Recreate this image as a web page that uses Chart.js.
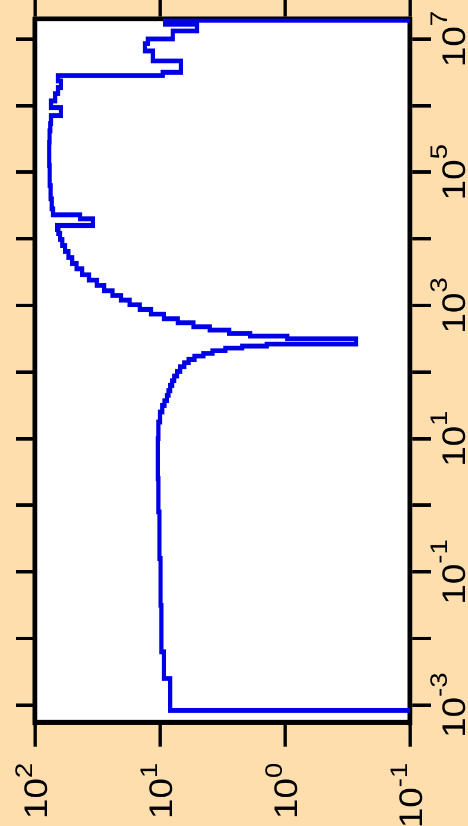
<!DOCTYPE html>
<html>
<head>
<meta charset="utf-8">
<script src="https://cdn.jsdelivr.net/npm/chart.js@4.4.1/dist/chart.umd.min.js"></script>
<style>
  html, body { margin: 0; padding: 0; }
  body { width: 468px; height: 826px; overflow: hidden; background: #FFDEAD; position: relative; }
  #wrap {
    position: absolute; left: 0; top: 0; width: 718px; height: 468px;
    transform-origin: 0 0;
    transform: translate(0px, 826px) rotate(-90deg) scale(1.1504, 1);
  }
</style>
</head>
<body>
<div id="wrap"><canvas id="grafico" width="718" height="468"></canvas></div>
<script>
// histogram bins: log10 of bin start, and bin height
const binStartExp = [-3.08, -2.6, -2.2, -1.5, -0.8, -0.1, 0.4, 1.0, 1.25, 1.4, 1.5, 1.57, 1.65, 1.72, 1.8, 1.87,
  1.94, 2.01, 2.08, 2.14, 2.19, 2.24, 2.28, 2.32, 2.36, 2.39, 2.42, 2.5, 2.54, 2.58, 2.63, 2.68, 2.74, 2.8,
  2.87, 2.94, 3.01, 3.08, 3.15, 3.22, 3.3, 3.38, 3.46, 3.55, 3.63, 3.72, 3.81, 3.9, 3.99, 4.08, 4.14, 4.2,
  4.3, 4.36, 4.45, 4.6, 4.8, 5.1, 5.45, 5.62, 5.73, 5.85, 5.97, 6.07, 6.18, 6.27, 6.37, 6.45, 6.5, 6.67,
  6.82, 6.93, 7.0, 7.12, 7.22];
const binValue = [8.3, 9.3, 9.75, 9.9, 10.1, 10.3, 10.4, 10.3, 10.0, 9.6, 9.2, 8.8, 8.55, 8.3, 8.0, 7.7,
  7.3, 6.9, 6.4, 5.9, 5.3, 4.5, 3.8, 3.0, 2.2, 1.4, 0.27, 0.96, 1.9, 2.8, 4.0, 5.4, 7.2, 9.3,
  11.8, 14.5, 17.5, 20.5, 24, 28, 32, 37, 42, 46.5, 50.5, 54, 57.5, 60.5, 63, 65, 66.5, 34.4,
  43.6, 71.8, 73.5, 75, 76.3, 77, 76.5, 75.5, 74.5, 62, 74.5, 69, 65.5, 62, 65.5, 9.5, 6.8, 11.4,
  13.2, 12.5, 7.9, 5.06, 9.1];
const lastEdgeExp = 7.28;
const emptyValue = 0.01;

const xRangeExp = [-3.26, 7.305];
const yRangeExp = [-1, 2];
const xTickExps = [-3, -2, -1, 0, 1, 2, 3, 4, 5, 6, 7];
const xLabelExps = [-3, -1, 1, 3, 5, 7];
const yTickExps = [-1, 0, 1, 2];
const yLabelExps = [-1, 0, 1, 2];

const FONT = '"Liberation Sans", Arial, sans-serif';

function tickList(exps) {
  return exps.map(e => ({ value: Math.pow(10, e) }));
}

function fixSize(prop, val) {
  return s => { s[prop] = val; };
}

const fundoBranco = {
  id: "fundoBranco",
  beforeDraw(chart) {
    const a = chart.chartArea;
    chart.ctx.save();
    chart.ctx.fillStyle = "#ffffff";
    chart.ctx.fillRect(a.left, a.top, a.right - a.left, a.bottom - a.top);
    chart.ctx.restore();
  }
};

function drawPow(ctx, x, baseY, supY, e, align) {
  ctx.font = "32px " + FONT;
  const w1 = ctx.measureText("10").width;
  ctx.font = "24px " + FONT;
  const sup = String(e);
  const w2 = ctx.measureText(sup).width;
  const left = align === "right" ? x - (w1 + w2) : x - (w1 + w2) / 2;
  ctx.font = "32px " + FONT;
  ctx.fillText("10", left, baseY);
  ctx.font = "24px " + FONT;
  ctx.fillText(sup, left + w1, supY);
}

const rotulosPot = {
  id: "rotulosPot",
  afterDraw(chart) {
    const ctx = chart.ctx;
    ctx.save();
    ctx.fillStyle = "#000";
    ctx.textAlign = "left";
    ctx.textBaseline = "alphabetic";
    const xs = chart.scales.x;
    xLabelExps.forEach(e => {
      const px = xs.getPixelForValue(Math.pow(10, e));
      drawPow(ctx, px, 465, 447, e, "center");
    });
    const ys = chart.scales.y;
    yLabelExps.forEach(e => {
      const py = ys.getPixelForValue(Math.pow(10, e));
      drawPow(ctx, 55, py + 12, py - 3, e, "right");
    });
    ctx.restore();
  }
};

const points = [{ x: Math.pow(10, binStartExp[0]), y: emptyValue }];
binStartExp.forEach((e, i) => points.push({ x: Math.pow(10, e), y: binValue[i] }));
points.push({ x: Math.pow(10, lastEdgeExp), y: emptyValue });

function axis(position, rangeExp, ticksExp, tickLen, tickW, borderW, size, sizeProp) {
  return {
    type: "logarithmic",
    position,
    min: Math.pow(10, rangeExp[0]),
    max: Math.pow(10, rangeExp[1]),
    afterBuildTicks: s => { s.ticks = tickList(ticksExp); },
    afterFit: fixSize(sizeProp, size),
    ticks: { display: false },
    grid: {
      drawOnChartArea: false,
      drawTicks: true,
      tickLength: tickLen,
      color: "#000",
      lineWidth: tickW
    },
    border: { display: true, color: "#000", width: borderW }
  };
}

const ctx = document.getElementById("grafico").getContext("2d");

new Chart(ctx, {
  type: "line",
  data: {
    datasets: [{
      data: points,
      stepped: "before",
      borderColor: "#0000E6",
      borderWidth: 4.2,
      pointRadius: 0,
      fill: false,
      tension: 0
    }]
  },
  options: {
    responsive: false,
    animation: false,
    devicePixelRatio: 2,
    layout: { padding: 0 },
    plugins: { legend: { display: false }, tooltip: { enabled: false }, title: { display: false } },
    scales: {
      x: axis("bottom", xRangeExp, xTickExps, 21, 3.0, 4.8, 58, "height"),
      x2: axis("top", xRangeExp, xTickExps, 19, 3.0, 4.8, 35, "height"),
      y: axis("left", yRangeExp, yTickExps, 21, 3.4, 4.2, 90, "width"),
      y2: axis("right", yRangeExp, yTickExps, 20, 3.4, 4.2, 16.2, "width")
    }
  },
  plugins: [fundoBranco, rotulosPot]
});
</script>
</body>
</html>
